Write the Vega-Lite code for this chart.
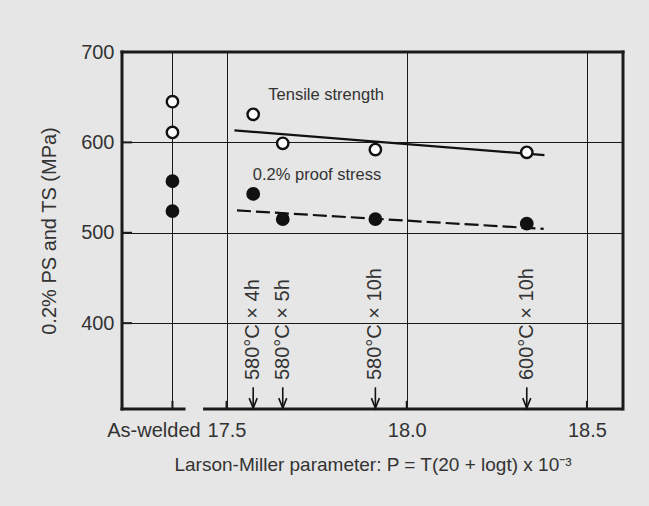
{
  "$schema": "https://vega.github.io/schema/vega-lite/v6.json",
  "width": 501,
  "height": 357,
  "autosize": {"type": "none"},
  "padding": {"left": 122, "top": 52, "right": 26, "bottom": 97},
  "background": "#e6e6e6",
  "config": {
    "view": {"stroke": null},
    "font": "Liberation Sans",
    "axis": {"labelColor": "#333", "titleColor": "#333", "titleFontWeight": "normal", "labelFont": "Liberation Sans", "titleFont": "Liberation Sans"},
    "text": {"font": "Liberation Sans", "color": "#333"}
  },
  "datasets": {
    "points": [
      {"P": 17.35, "stress": 645, "series": "TS"},
      {"P": 17.35, "stress": 611, "series": "TS"},
      {"P": 17.574, "stress": 631, "series": "TS"},
      {"P": 17.656, "stress": 599, "series": "TS"},
      {"P": 17.913, "stress": 592, "series": "TS"},
      {"P": 18.333, "stress": 589, "series": "TS"},
      {"P": 17.35, "stress": 557, "series": "PS"},
      {"P": 17.35, "stress": 524, "series": "PS"},
      {"P": 17.574, "stress": 543, "series": "PS"},
      {"P": 17.656, "stress": 515, "series": "PS"},
      {"P": 17.913, "stress": 515, "series": "PS"},
      {"P": 18.333, "stress": 510, "series": "PS"}
    ],
    "trend": [
      {"P": 17.522, "stress": 613.3, "series": "TS"},
      {"P": 18.382, "stress": 585.9, "series": "TS"},
      {"P": 17.529, "stress": 524.7, "series": "PS"},
      {"P": 18.38, "stress": 504.3, "series": "PS"}
    ],
    "treat": [
      {"P": 17.574, "label": "580°C × 4h"},
      {"P": 17.656, "label": "580°C × 5h"},
      {"P": 17.913, "label": "580°C × 10h"},
      {"P": 18.333, "label": "600°C × 10h"}
    ],
    "notes": [
      {"P": 17.616, "stress": 652.4, "label": "Tensile strength"},
      {"P": 17.573, "stress": 563.8, "label": "0.2% proof stress"}
    ],
    "yticks": [{"stress": 400}, {"stress": 500}, {"stress": 600}],
    "xticks": [{"P": 17.35}, {"P": 17.5}, {"P": 18.0}, {"P": 18.5}],
    "one": [{}]
  },
  "layer": [
    {
      "data": {"name": "points"},
      "mark": {"type": "point", "opacity": 0},
      "encoding": {
        "x": {
          "field": "P", "type": "quantitative",
          "scale": {"domain": [17.21, 18.6], "nice": false, "zero": false},
          "axis": {
            "values": [17.35, 17.5, 18.0, 18.5],
            "grid": true, "gridColor": "#1a1a1a", "gridWidth": 1, "gridOpacity": 1,
            "domain": false, "ticks": false,
            "labelPadding": 11, "labelFontSize": 20,
            "labelExpr": "datum.value < 17.4 ? 'As-welded' : format(datum.value, '.1f')",
            "labelOffset": {"condition": {"test": "datum.value < 17.4", "value": -19}, "value": 0},
            "labelFlush": false, "labelOverlap": false,
            "title": "Larson-Miller parameter: P = T(20 + logt) x 10⁻³",
            "titleFontSize": 19, "titlePadding": 15
          }
        },
        "y": {
          "field": "stress", "type": "quantitative",
          "scale": {"domain": [305, 700], "nice": false, "zero": false},
          "axis": {
            "values": [400, 500, 600, 700],
            "grid": true, "gridColor": "#1a1a1a", "gridWidth": 1, "gridOpacity": 1,
            "domain": false, "ticks": false,
            "labelPadding": 8, "labelFontSize": 20, "labelFlush": false,
            "title": "0.2% PS and TS (MPa)",
            "titleFontSize": 20, "titlePadding": 21
          }
        }
      }
    },
    {
      "data": {"name": "yticks"},
      "mark": {"type": "rule", "color": "#1a1a1a", "strokeWidth": 2},
      "encoding": {
        "x": {"datum": 17.21, "type": "quantitative"},
        "x2": {"datum": 17.238},
        "y": {"field": "stress", "type": "quantitative"}
      }
    },
    {
      "data": {"name": "xticks"},
      "mark": {"type": "rule", "color": "#1a1a1a", "strokeWidth": 2},
      "encoding": {
        "x": {"field": "P", "type": "quantitative"},
        "y": {"datum": 305, "type": "quantitative"},
        "y2": {"datum": 314}
      }
    },
    {
      "data": {"name": "one"},
      "mark": {"type": "rule", "color": "#1a1a1a", "strokeWidth": 3, "strokeCap": "square"},
      "encoding": {
        "x": {"datum": 17.21, "type": "quantitative"},
        "y": {"datum": 305, "type": "quantitative"},
        "y2": {"datum": 700}
      }
    },
    {
      "data": {"name": "one"},
      "mark": {"type": "rule", "color": "#1a1a1a", "strokeWidth": 3, "strokeCap": "square"},
      "encoding": {
        "x": {"datum": 18.6, "type": "quantitative"},
        "y": {"datum": 305, "type": "quantitative"},
        "y2": {"datum": 700}
      }
    },
    {
      "data": {"name": "one"},
      "mark": {"type": "rule", "color": "#1a1a1a", "strokeWidth": 3, "strokeCap": "square"},
      "encoding": {
        "x": {"datum": 17.21, "type": "quantitative"},
        "x2": {"datum": 18.6},
        "y": {"datum": 700, "type": "quantitative"}
      }
    },
    {
      "data": {"name": "one"},
      "mark": {"type": "rule", "color": "#1a1a1a", "strokeWidth": 3, "strokeCap": "square"},
      "encoding": {
        "x": {"datum": 17.21, "type": "quantitative"},
        "x2": {"datum": 17.382},
        "y": {"datum": 305, "type": "quantitative"}
      }
    },
    {
      "data": {"name": "one"},
      "mark": {"type": "rule", "color": "#1a1a1a", "strokeWidth": 3, "strokeCap": "butt"},
      "encoding": {
        "x": {"datum": 17.435, "type": "quantitative"},
        "x2": {"datum": 18.6},
        "y": {"datum": 305, "type": "quantitative"}
      }
    },
    {
      "data": {"name": "trend"},
      "transform": [{"filter": "datum.series == 'TS'"}],
      "mark": {"type": "line", "color": "#111", "strokeWidth": 2.2},
      "encoding": {
        "x": {"field": "P", "type": "quantitative"},
        "y": {"field": "stress", "type": "quantitative"}
      }
    },
    {
      "data": {"name": "trend"},
      "transform": [{"filter": "datum.series == 'PS'"}],
      "mark": {"type": "line", "color": "#111", "strokeWidth": 2.2, "strokeDash": [14, 5]},
      "encoding": {
        "x": {"field": "P", "type": "quantitative"},
        "y": {"field": "stress", "type": "quantitative"}
      }
    },
    {
      "data": {"name": "points"},
      "mark": {"type": "point", "filled": true, "size": 130, "stroke": "#111", "strokeWidth": 2.4, "opacity": 1},
      "encoding": {
        "x": {"field": "P", "type": "quantitative"},
        "y": {"field": "stress", "type": "quantitative"},
        "fill": {"field": "series", "type": "nominal", "scale": {"domain": ["TS", "PS"], "range": ["#ffffff", "#111111"]}, "legend": null}
      }
    },
    {
      "data": {"name": "treat"},
      "mark": {"type": "rule", "color": "#111", "strokeWidth": 1.6},
      "encoding": {
        "x": {"field": "P", "type": "quantitative"},
        "y": {"datum": 329, "type": "quantitative"},
        "y2": {"datum": 306}
      }
    },
    {
      "data": {"name": "treat"},
      "mark": {"type": "point", "shape": "M-0.4,-1L0,0L0.4,-1", "filled": false, "size": 400, "stroke": "#111", "strokeWidth": 1.6, "opacity": 1},
      "encoding": {
        "x": {"field": "P", "type": "quantitative"},
        "y": {"datum": 306, "type": "quantitative"}
      }
    },
    {
      "data": {"name": "treat"},
      "mark": {"type": "text", "angle": 270, "align": "left", "baseline": "middle", "fontSize": 20},
      "encoding": {
        "x": {"field": "P", "type": "quantitative"},
        "y": {"datum": 337, "type": "quantitative"},
        "text": {"field": "label"}
      }
    },
    {
      "data": {"name": "notes"},
      "mark": {"type": "text", "align": "left", "baseline": "middle", "fontSize": 16.5},
      "encoding": {
        "x": {"field": "P", "type": "quantitative"},
        "y": {"field": "stress", "type": "quantitative"},
        "text": {"field": "label"}
      }
    }
  ]
}
